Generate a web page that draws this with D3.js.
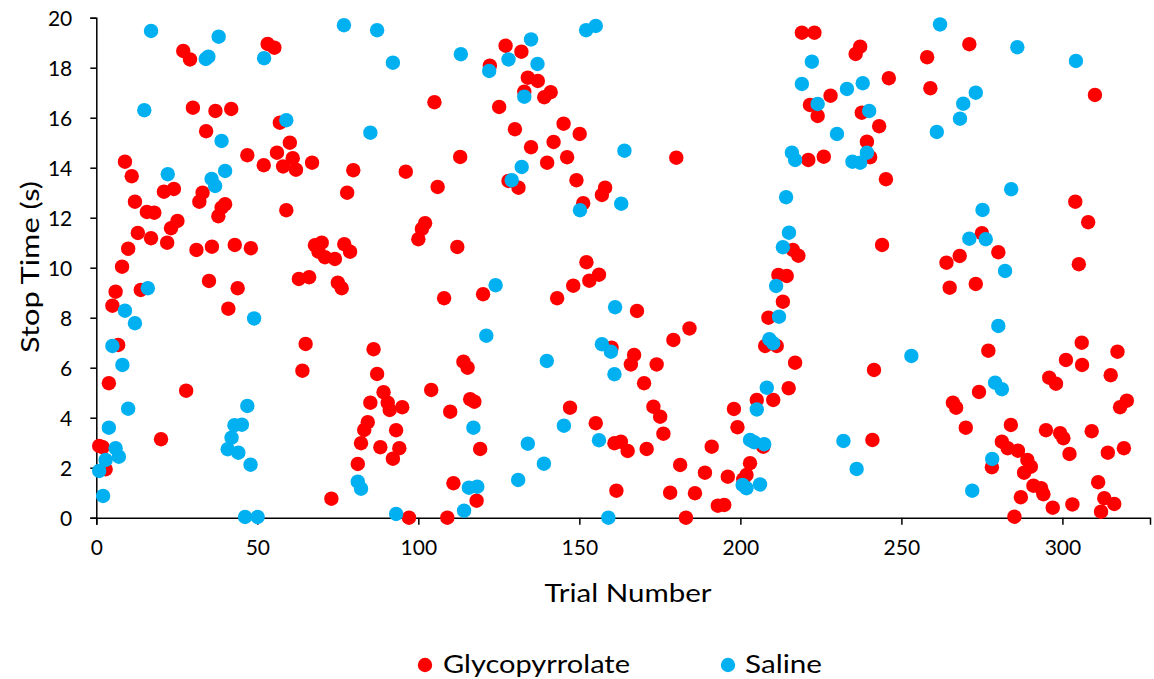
<!DOCTYPE html>
<html>
<head>
<meta charset="utf-8">
<script src="https://cdn.jsdelivr.net/npm/d3@7"></script>
<style>
  html, body { margin: 0; padding: 0; background: #fff; }
  svg { display: block; }
  text { font-family: Lato, "Open Sans", sans-serif; fill: #000; }
</style>
</head>
<body>
<svg id="chart" width="1154" height="679"></svg>
<script>
// ---- Data ----
const seriesNames = ["Glycopyrrolate", "Saline"];
const seriesColors = ["#FF0000", "#00B0F0"];

const glyTrial = [27.0,29.1,53.2,55.3,30.0,37.0,41.9,57.0,34.1,60.1,46.9,56.1,61.0,52.0,58.0,62.0,67.0,8.9,11.0,21.0,24.1,33.0,32.0,12.0,40.0,38.9,37.9,59.0,77.9,79.8,15.7,18.0,25.2,23.2,12.9,17.0,22.0,9.9,31.1,35.9,43.0,48.0,8.0,67.9,70.0,69.0,71.0,74.1,77.0,78.8,
6.0,5.0,13.8,6.8,3.9,27.9,20.1,0.9,2.0,2.9,35.0,43.9,41.0,62.9,66.1,75.0,76.2,65.0,64.0,73.0,
127.1,132.0,122.2,134.0,137.1,132.9,139.1,141.1,105.0,125.1,130.0,145.1,150.1,135.0,142.0,140.0,146.2,113.0,96.1,106.0,128.0,131.1,149.1,158.0,157.0,151.2,102.1,101.1,100.0,112.1,152.2,
108.0,120.1,143.1,148.1,153.1,156.1,86.1,87.2,89.2,85.1,90.5,91.1,95.0,84.3,83.2,93.1,82.2,88.2,94.1,92.1,81.2,97.1,109.0,104.0,109.9,114.0,115.3,116.1,117.4,119.2,110.9,118.1,147.1,155.1,161.5,160.0,
219.1,223.0,237.2,235.8,228.0,221.6,224.0,237.7,243.1,239.3,240.3,221.1,225.9,180.1,216.3,218.0,
211.8,214.4,213.2,208.7,207.7,211.3,217.0,215.0,210.2,205.1,198.0,199.1,207.1,203.0,201.9,200.9,191.1,196.1,189.0,185.9,178.2,193.0,195.0,183.1,181.3,176.1,175.1,173.0,170.9,165.0,162.9,160.9,167.9,179.2,184.2,167.0,166.0,174.0,170.1,241.5,241.0,
258.0,271.1,246.1,259.0,310.1,245.2,244.0,304.0,308.0,275.0,280.1,268.1,264.0,305.1,
265.0,273.1,277.0,306.0,317.1,301.1,306.1,315.0,295.9,298.0,274.1,266.0,267.0,320.0,317.9,284.0,270.0,294.9,299.3,300.3,309.1,281.2,283.0,286.2,302.2,314.1,319.1,278.1,289.1,290.2,288.1,291.0,293.4,294.1,311.1,313.0,316.1,312.0,287.1,297.0,303.1,285.1];

const glyTime = [18.67,18.33,18.95,18.8,16.4,16.27,16.35,15.8,15.46,15.0,14.5,14.6,14.38,14.1,14.05,13.92,14.2,14.24,13.66,13.04,13.15,13.0,12.64,12.64,12.54,12.4,12.06,12.3,13.0,13.9,12.23,12.2,11.87,11.58,11.39,11.18,11.0,10.76,10.71,10.84,10.91,10.78,10.04,10.9,11.0,10.64,10.42,10.35,10.94,10.64,
9.04,8.48,9.11,6.91,5.38,5.08,3.14,2.87,2.82,1.94,9.47,9.18,8.36,9.55,9.62,9.4,9.18,6.95,5.88,0.76,
18.88,18.64,18.08,17.6,17.47,17.04,16.82,17.02,16.62,16.43,15.54,15.76,15.35,14.82,15.03,14.2,14.42,14.43,13.84,13.23,13.47,13.2,13.5,13.2,12.91,12.58,11.78,11.55,11.14,10.83,10.22,
8.78,8.94,8.78,9.28,9.48,9.72,6.74,5.75,5.02,4.6,4.6,4.31,4.42,3.82,3.51,3.5,2.98,2.82,2.78,2.36,2.15,0.0,0.0,5.11,4.24,6.24,6.0,4.74,4.64,2.75,1.38,0.68,4.4,3.78,1.08,6.8,
19.4,19.4,18.84,18.55,16.88,16.51,16.07,16.2,15.66,15.04,14.42,14.31,14.44,14.4,10.71,10.48,
9.71,9.67,8.64,8.0,6.87,6.87,6.2,5.18,4.71,4.71,4.35,3.62,2.84,2.18,1.71,1.53,2.84,1.64,1.8,0.98,1.0,0.48,0.51,0.0,2.11,3.36,4.04,4.44,2.75,2.67,3.04,2.98,8.27,7.11,7.57,6.51,6.13,6.13,5.38,5.91,3.11,
18.42,18.94,17.58,17.18,16.91,13.54,10.91,12.64,11.82,11.38,10.62,10.47,10.2,10.14,
9.2,9.35,6.68,7.0,6.64,6.31,6.11,5.7,5.6,5.36,5.03,4.6,4.4,4.68,4.42,3.71,3.6,3.5,3.38,3.18,3.46,3.04,2.78,2.68,2.55,2.6,2.78,2.02,2.31,2.04,1.8,1.28,1.18,0.94,1.42,0.78,0.55,0.24,0.82,0.4,0.53,0.04];

const salTrial = [17.0,38.0,34.8,34.0,52.1,76.9,14.9,59.0,38.9,40.0,35.8,36.9,22.2,16.0,8.9,12.0,5.0,8.1,9.9,3.9,6.0,7.0,2.9,0.9,2.1,49.0,46.9,42.9,45.2,42.0,40.8,44.1,47.9,46.2,50.1,
87.2,92.1,113.2,135.0,128.0,137.0,122.0,132.9,152.1,155.1,85.1,132.1,129.0,150.2,163.0,124.0,121.1,139.9,157.0,159.8,161.1,160.9,81.2,82.2,93.1,117.1,115.7,118.3,114.2,134.0,145.2,139.0,131.0,156.1,159.0,164.0,
222.2,219.1,224.0,233.1,238.0,240.0,230.0,216.0,217.0,234.8,237.2,239.3,214.2,215.1,213.2,211.1,212.0,209.0,210.2,208.2,205.1,203.0,204.3,207.4,200.7,201.9,206.1,232.0,236.1,
262.0,286.0,304.2,273.1,269.2,268.2,261.0,284.1,275.2,271.1,276.2,282.2,280.1,253.1,279.1,281.2,278.2,272.0];

const salTime = [19.47,19.24,18.44,18.35,18.38,19.7,16.3,15.9,15.07,13.87,13.55,13.27,13.74,9.18,8.28,7.78,6.87,6.11,4.36,3.6,2.78,2.44,2.31,1.87,0.87,7.97,4.47,3.7,3.72,3.2,2.74,2.6,2.12,0.03,0.03,
19.5,18.2,18.54,19.13,18.33,18.15,17.87,16.84,19.5,19.67,15.4,14.03,13.5,12.3,12.56,9.3,7.28,6.27,6.94,6.64,8.42,5.74,1.44,1.16,0.15,3.6,1.2,1.24,0.28,2.96,3.68,2.16,1.51,3.1,0.0,14.68,
18.24,17.35,16.55,17.15,17.38,16.27,15.35,14.6,14.31,14.24,14.2,14.6,12.82,11.4,10.82,9.27,8.04,7.14,6.98,5.2,4.33,3.11,3.02,2.94,1.31,1.18,1.33,3.07,1.95,
19.73,18.82,18.27,17.0,16.56,15.96,15.43,13.14,12.31,11.16,11.14,9.87,7.67,6.47,5.4,5.14,2.35,1.08];

const xTicks = [0, 50, 100, 150, 200, 250, 300];
const yTicks = [0, 2, 4, 6, 8, 10, 12, 14, 16, 18, 20];
const xTitle = "Trial Number";
const yTitle = "Stop Time (s)";

// ---- Layout ----
const svg = d3.select("#chart");
const x = d3.scaleLinear().domain([0, 327.2]).range([96.3, 1150]);
const y = d3.scaleLinear().domain([0, 20]).range([517.7, 17.7]);
const R = 7.2;

// axes
const yAxis = d3.axisLeft(y).tickValues(yTicks).tickSize(6).tickPadding(18).tickFormat(d3.format("d"));
const xAxis = d3.axisBottom(x).tickValues(xTicks).tickSize(7).tickPadding(15).tickFormat(d3.format("d"));

const gy = svg.append("g").attr("transform", `translate(${x(0)},0)`).call(yAxis);
const gx = svg.append("g").attr("transform", `translate(0,${y(0)})`).call(xAxis);

[gx, gy].forEach(g => {
  g.select(".domain").attr("stroke", "#000").attr("stroke-width", 1.5);
  g.selectAll(".tick line").attr("stroke", "#000").attr("stroke-width", 1.5);
  g.selectAll(".tick text").attr("font-size", 21).attr("fill", "#000")
    .style("font-family", "Lato, sans-serif");
});
gy.selectAll(".tick text").attr("dy", "0.36em");
gx.selectAll(".tick text").attr("dy", "0.72em");

// points: Glycopyrrolate first, Saline on top
const gly = glyTrial.map((t, i) => ({ t, v: glyTime[i] }));
const sal = salTrial.map((t, i) => ({ t, v: salTime[i] }));

svg.append("g").selectAll("circle").data(gly).join("circle")
  .attr("cx", d => x(d.t)).attr("cy", d => y(d.v)).attr("r", R)
  .attr("fill", seriesColors[0]);
svg.append("g").selectAll("circle").data(sal).join("circle")
  .attr("cx", d => x(d.t)).attr("cy", d => y(d.v)).attr("r", R)
  .attr("fill", seriesColors[1]);

// titles
svg.append("text").attr("x", 628).attr("y", 601.5)
  .attr("text-anchor", "middle").attr("font-size", 24.5)
  .attr("textLength", 167).attr("lengthAdjust", "spacingAndGlyphs")
  .text(xTitle);

svg.append("text").attr("transform", "translate(38.5,267) rotate(-90)")
  .attr("text-anchor", "middle").attr("font-size", 25.5)
  .attr("textLength", 172).attr("lengthAdjust", "spacingAndGlyphs")
  .text(yTitle);

// legend
const legendItems = [
  { name: seriesNames[0], color: seriesColors[0], cx: 425, tx: 443, w: 187 },
  { name: seriesNames[1], color: seriesColors[1], cx: 728, tx: 745, w: 77 }
];
const lg = svg.append("g");
legendItems.forEach(it => {
  lg.append("circle").attr("cx", it.cx).attr("cy", 665).attr("r", R).attr("fill", it.color);
  lg.append("text").attr("x", it.tx).attr("y", 672.5).attr("font-size", 24.5)
    .attr("textLength", it.w).attr("lengthAdjust", "spacingAndGlyphs")
    .text(it.name);
});
</script>
</body>
</html>
